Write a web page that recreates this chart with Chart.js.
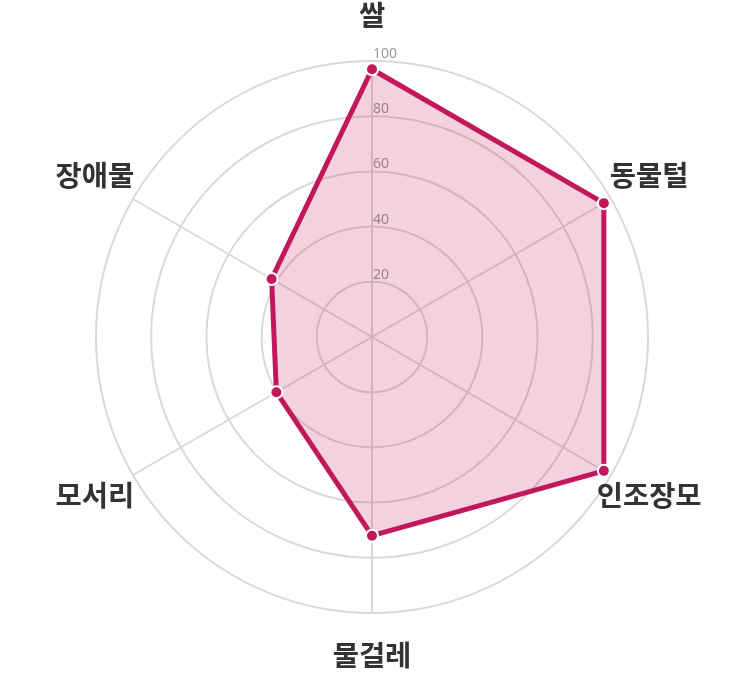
<!DOCTYPE html>
<html>
<head>
<meta charset="utf-8">
<script src="https://cdn.jsdelivr.net/npm/chart.js@4"></script>
<style>
  html, body { margin: 0; padding: 0; background: #fff; }
  #wrap { width: 745px; height: 675px; }
</style>
</head>
<body>
<div id="wrap"><canvas id="myChart"></canvas></div>
<script>
// categories and values
var labels = ["쌀", "동물털", "인조장모", "물걸레", "모서리", "장애물"];
var scores = [97, 97, 97, 72, 40, 42];
var tickValues = [20, 40, 60, 80, 100];

// tick labels sit left-aligned on top of each ring, under the filled area
var tickLabelPlugin = {
	id: 'tickLabels',
	beforeDatasetsDraw: function(chart) {
		var scale = chart.scales.r;
		var ctx = chart.ctx;
		ctx.save();
		ctx.font = '14px "Noto Sans", sans-serif';
		ctx.fillStyle = '#999';
		ctx.textAlign = 'left';
		ctx.textBaseline = 'alphabetic';
		tickValues.forEach(function(v) {
			var d = scale.getDistanceFromCenterForValue(v);
			ctx.fillText(String(v), scale.xCenter + 1, scale.yCenter - d - 3);
		});
		ctx.restore();
	}
};

// category names centred on each spoke, outside the outer ring
var pointLabelPlugin = {
	id: 'centredPointLabels',
	afterDraw: function(chart) {
		var scale = chart.scales.r;
		var ctx = chart.ctx;
		ctx.save();
		ctx.font = 'bold 28.5px "Noto Sans CJK KR", sans-serif';
		ctx.fillStyle = '#333';
		ctx.textAlign = 'center';
		ctx.textBaseline = 'middle';
		labels.forEach(function(name, i) {
			var p = scale.getPointPosition(i, scale.drawingArea + 44);
			ctx.fillText(name, p.x, p.y - 2);
		});
		ctx.restore();
	}
};

var ctx = document.getElementById("myChart").getContext('2d');
var myChart = new Chart(ctx, {
	type: 'radar',
	data: {
		labels: labels,
		datasets: [{
			data: scores,
			backgroundColor: 'rgba(194, 24, 91, 0.2)',
			borderColor: '#c2185b',
			borderWidth: 5,
			pointBackgroundColor: '#c2185b',
			pointBorderColor: '#fff',
			pointBorderWidth: 2,
			pointRadius: 6,
			pointHoverRadius: 6,
			fill: true
		}]
	},
	options: {
		responsive: true,
		maintainAspectRatio: false,
		animation: false,
		layout: { padding: { top: 61, bottom: 62, left: 0, right: 0 } },
		plugins: {
			legend: { display: false },
			tooltip: { enabled: false }
		},
		scales: {
			r: {
				min: 0,
				max: 100,
				ticks: { stepSize: 20, display: false },
				grid: { circular: true, color: '#d9d9d9', lineWidth: 2 },
				angleLines: { color: '#d9d9d9', lineWidth: 2 },
				pointLabels: { display: false }
			}
		}
	},
	plugins: [tickLabelPlugin, pointLabelPlugin]
});
</script>
</body>
</html>
